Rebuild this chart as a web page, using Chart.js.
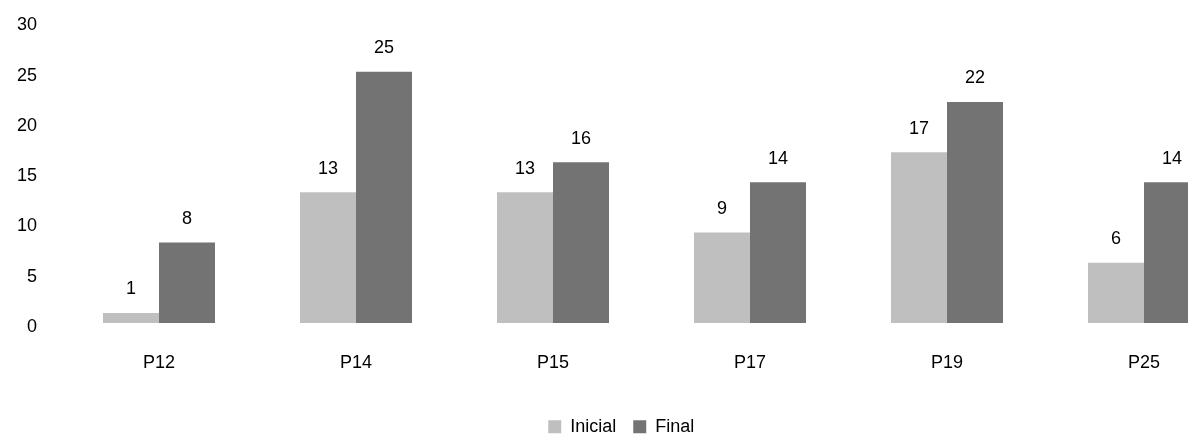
<!DOCTYPE html>
<html>
<head>
<meta charset="utf-8">
<script src="https://cdn.jsdelivr.net/npm/chart.js@4/dist/chart.umd.min.js"></script>
<style>
  html, body { margin: 0; padding: 0; background: #fff; overflow: hidden; }
  #wrap { width: 1260px; height: 436px; }
</style>
</head>
<body>
<div id="wrap"><canvas id="chart" width="1260" height="436"></canvas></div>
<script>
const categories = ["P12", "P14", "P15", "P17", "P19", "P25"];
const inicial = [1, 13, 13, 9, 17, 6];
const final = [8, 25, 16, 14, 22, 14];
const yTicks = [0, 5, 10, 15, 20, 25, 30];

const font = { family: "'Liberation Sans', Arial, sans-serif", size: 18 };

// value labels above each bar
const valueLabels = {
  id: "valueLabels",
  afterDatasetsDraw(chart) {
    const ctx = chart.ctx;
    ctx.save();
    ctx.font = "18px 'Liberation Sans', Arial, sans-serif";
    ctx.fillStyle = "#000";
    ctx.textAlign = "center";
    ctx.textBaseline = "middle";
    chart.data.datasets.forEach((ds, i) => {
      chart.getDatasetMeta(i).data.forEach((bar, j) => {
        ctx.fillText(ds.data[j], bar.x, bar.y - 23.5);
      });
    });
    ctx.restore();
  }
};

new Chart(document.getElementById("chart"), {
  type: "bar",
  data: {
    labels: categories,
    datasets: [
      { label: "Inicial", data: inicial, backgroundColor: "#bfbfbf" },
      { label: "Final", data: final, backgroundColor: "#737373" }
    ]
  },
  options: {
    responsive: false,
    animation: false,
    categoryPercentage: 0.5685,
    barPercentage: 1,
    layout: { padding: { top: 21.5, right: 17.5, bottom: -9.7, left: 0 } },
    plugins: {
      legend: {
        position: "bottom",
        labels: { font: font, color: "#000", boxWidth: 13, boxHeight: 13, padding: 17 }
      },
      tooltip: { enabled: false }
    },
    scales: {
      x: {
        grid: { display: false, drawTicks: false },
        border: { display: false },
        ticks: { font: font, color: "#000", padding: 29 },
        afterFit(scale) { scale.height = 77.7; }
      },
      y: {
        min: 0,
        max: 30,
        afterBuildTicks(scale) { scale.ticks = yTicks.map(v => ({ value: v })); },
        grid: { display: false, drawTicks: false },
        border: { display: false },
        ticks: { font: font, color: "#000", padding: 23.5, labelOffset: 4 },
        afterFit(scale) {
          scale.width = 60.5;
          scale.paddingTop = 0;
          scale.paddingBottom = 0;
        }
      }
    }
  },
  plugins: [valueLabels]
});
</script>
</body>
</html>
